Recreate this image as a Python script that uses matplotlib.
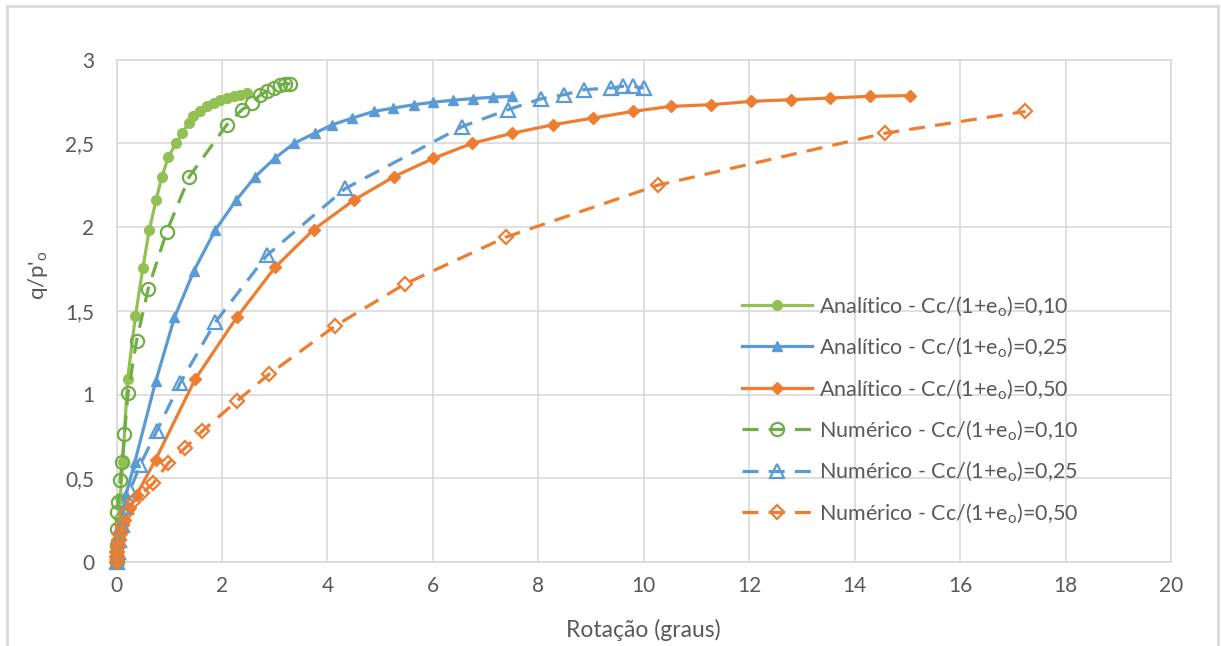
import matplotlib
matplotlib.use("Agg")
import matplotlib.pyplot as plt
import matplotlib.patches as mpatches

plt.rcParams['font.family'] = ['Lato', 'DejaVu Sans']
plt.rcParams['mathtext.fontset'] = 'custom'
plt.rcParams['mathtext.rm'] = 'Lato'

# Analítico - Cc/(1+e0)=0,10
ana10_x = [0, 0.005, 0.01, 0.02, 0.04, 0.07, 0.12, 0.21, 0.36, 0.50, 0.62, 0.75, 0.86, 0.985,
           1.13, 1.24, 1.37, 1.45, 1.59, 1.71, 1.84, 1.97, 2.09, 2.22, 2.35, 2.47]
ana10_y = [0, 0.05, 0.10, 0.17, 0.26, 0.38, 0.60, 1.09, 1.47, 1.755, 1.98, 2.16, 2.30, 2.42,
           2.50, 2.56, 2.62, 2.66, 2.69, 2.72, 2.74, 2.76, 2.77, 2.78, 2.79, 2.80]

# Analítico - 0,25
ana25_x = [0, 0.02, 0.05, 0.10, 0.18, 0.35, 0.745, 1.10, 1.47, 1.87, 2.27, 2.63, 3.00, 3.37,
           3.76, 4.09, 4.47, 4.88, 5.25, 5.64, 6.01, 6.39, 6.77, 7.15, 7.51]
ana25_y = [0, 0.08, 0.17, 0.27, 0.40, 0.60, 1.08, 1.46, 1.74, 1.98, 2.16, 2.30, 2.41, 2.50,
           2.56, 2.61, 2.65, 2.69, 2.71, 2.73, 2.745, 2.757, 2.767, 2.775, 2.78]

# Analítico - 0,50
ana50_x = [0, 0.0, 0.01, 0.03, 0.06, 0.10, 0.16, 0.25, 0.38, 0.74, 1.49, 2.28, 3.01, 3.74,
           4.50, 5.26, 6.01, 6.75, 7.51, 8.27, 9.03, 9.79, 10.51, 11.27, 12.03, 12.79, 13.53,
           14.29, 15.05]
ana50_y = [0, 0.03, 0.06, 0.10, 0.14, 0.19, 0.25, 0.32, 0.40, 0.61, 1.09, 1.46, 1.76, 1.985,
           2.16, 2.30, 2.41, 2.50, 2.56, 2.61, 2.65, 2.69, 2.72, 2.73, 2.75, 2.76, 2.77,
           2.78, 2.785]

# Numérico - 0,10
num10_x = [0, 0.0, 0.0, 0.01, 0.03, 0.07, 0.11, 0.15, 0.22, 0.38, 0.60, 0.95, 1.38, 2.09,
           2.38, 2.57, 2.73, 2.86, 2.98, 3.11, 3.20, 3.30]
num10_y = [0, 0.10, 0.20, 0.30, 0.36, 0.49, 0.60, 0.765, 1.01, 1.32, 1.63, 1.97, 2.30, 2.61,
           2.70, 2.74, 2.79, 2.81, 2.83, 2.85, 2.855, 2.855]

# Numérico - 0,25
num25_x = [0, 0.02, 0.05, 0.10, 0.18, 0.26, 0.45, 0.76, 1.21, 1.87, 2.85, 4.34, 6.56, 7.42,
           8.05, 8.49, 8.87, 9.38, 9.60, 9.79, 10.0]
num25_y = [0, 0.06, 0.13, 0.22, 0.33, 0.43, 0.58, 0.78, 1.07, 1.43, 1.83, 2.23, 2.60, 2.70,
           2.765, 2.79, 2.82, 2.83, 2.84, 2.84, 2.83]

# Numérico - 0,50
num50_x = [0, 0.0, 0.01, 0.02, 0.04, 0.07, 0.11, 0.18, 0.32, 0.48, 0.70, 0.98, 1.30, 1.62,
           2.28, 2.89, 4.15, 5.47, 7.39, 10.27, 14.58, 17.24]
num50_y = [0, 0.03, 0.06, 0.09, 0.13, 0.17, 0.22, 0.29, 0.36, 0.41, 0.47, 0.59, 0.68, 0.78,
           0.96, 1.12, 1.41, 1.66, 1.94, 2.25, 2.56, 2.69]

x_ticks = [0, 2, 4, 6, 8, 10, 12, 14, 16, 18, 20]
y_ticks = [0, 0.5, 1, 1.5, 2, 2.5, 3]

GREEN_A = '#92c052'
GREEN_N = '#70ad47'
BLUE = '#5b9bd5'
ORANGE = '#ed7d31'
TXT = '#595959'
GRID = '#d9d9d9'

sub = r'$\mathregular{_o}$'
lab = 'Cc/(1+e' + sub + ')='

fig = plt.figure(figsize=(12.21, 6.46), dpi=100)
ax = fig.add_axes([116.5 / 1221, 1 - 562 / 646, (1171 - 116.5) / 1221, (562 - 59.5) / 646])

lw = 2.3
dash = (5, 3.2)

ax.plot(ana10_x, ana10_y, color=GREEN_A, lw=lw, marker='o', ms=7, mec=GREEN_A, mfc=GREEN_A,
        label='Analítico - ' + lab + '0,10', clip_on=False, zorder=3)
ax.plot(ana25_x, ana25_y, color=BLUE, lw=lw, marker='^', ms=7.5, mec=BLUE, mfc=BLUE,
        label='Analítico - ' + lab + '0,25', clip_on=False, zorder=3)
ax.plot(ana50_x, ana50_y, color=ORANGE, lw=lw, marker='D', ms=6, mec=ORANGE, mfc=ORANGE,
        label='Analítico - ' + lab + '0,50', clip_on=False, zorder=3)

ax.plot(num10_x, num10_y, color=GREEN_N, lw=lw, dashes=dash, marker='o', ms=9.5, mew=1.6,
        mec=GREEN_N, mfc='none', label='Numérico - ' + lab + '0,10', clip_on=False, zorder=4)
ax.plot(num25_x, num25_y, color=BLUE, lw=lw, dashes=dash, marker='^', ms=9.5, mew=1.6,
        mec=BLUE, mfc='none', label='Numérico - ' + lab + '0,25', clip_on=False, zorder=4)
ax.plot(num50_x, num50_y, color=ORANGE, lw=lw, dashes=dash, marker='D', ms=7, mew=1.6,
        mec=ORANGE, mfc='none', label='Numérico - ' + lab + '0,50', clip_on=False, zorder=4)

ax.set_xlim(0, 20)
ax.set_ylim(0, 3)
ax.set_xticks(x_ticks)
ax.set_yticks(y_ticks)
ax.set_xticklabels([str(v) for v in x_ticks])
ax.set_yticklabels([f'{v:g}'.replace('.', ',') for v in y_ticks])
ax.tick_params(length=0, colors=TXT, labelsize=15)
ax.tick_params(axis='y', pad=16)
ax.tick_params(axis='x', pad=10)
ax.grid(True, color=GRID, lw=1.2)
ax.set_axisbelow(True)
for s in ax.spines.values():
    s.set_color(GRID)
    s.set_linewidth(1.2)

fig.text(643 / 1221, 1 - 630 / 646, 'Rotação (graus)', ha='center', va='center',
         fontsize=16.5, color=TXT)
fig.text(38 / 1221, 1 - 275 / 646, "q/p'" + sub, ha='center', va='center',
         rotation=90, fontsize=16, color=TXT)

leg = ax.legend(loc='upper left', bbox_to_anchor=((742 - 116.5) / 1054.5, (562 - 294) / 502.5),
                frameon=False, fontsize=15.5, handlelength=3.25, handletextpad=0.33,
                labelspacing=0.83, labelcolor=TXT, borderaxespad=0, borderpad=0)

# chart outer border
fig.patches.append(mpatches.Rectangle((7.5 / 1221, -0.05), (1218 - 7.5) / 1221, 1.05 - 6 / 646,
                                      transform=fig.transFigure, fill=False,
                                      edgecolor=GRID, lw=2))

fig.savefig('out.png', dpi=100, facecolor='white')
